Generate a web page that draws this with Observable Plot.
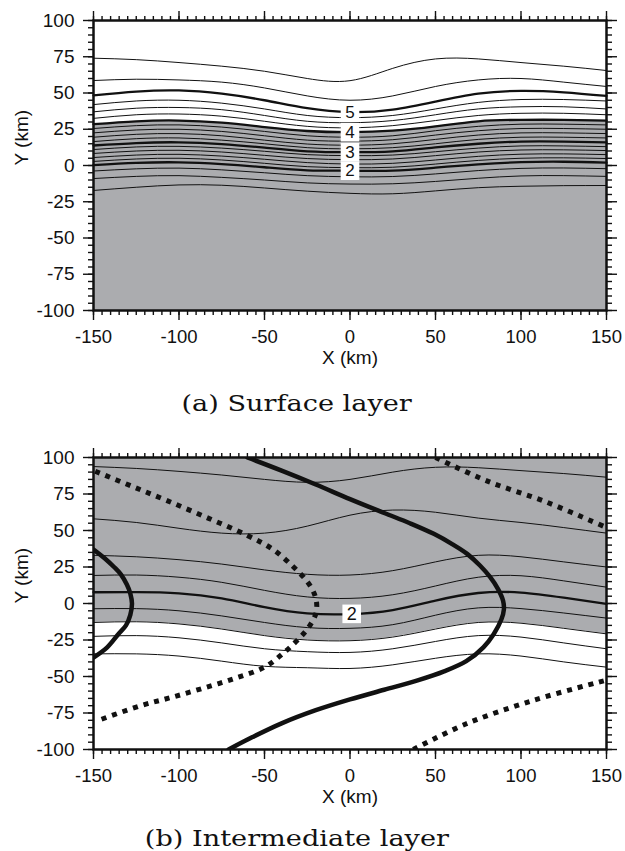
<!DOCTYPE html>
<html>
<head>
<meta charset="utf-8">
<script src="https://cdn.jsdelivr.net/npm/d3@7"></script>
<script src="https://cdn.jsdelivr.net/npm/@observablehq/plot@0.6"></script>
<style>
  html, body { margin: 0; padding: 0; background: #fff; }
  #page { position: relative; width: 625px; height: 851px; overflow: hidden; }
  .panel { position: absolute; left: 0; }
  .panel svg text { font-family: "Liberation Sans", Arial, Helvetica, sans-serif; }
  .cap { position: absolute; left: 0; width: 594px; text-align: center;
         font-family: "DejaVu Serif", "Liberation Serif", serif; font-size: 23px;
         line-height: 30px; color: #111; }
  .cap span { display: inline-block; transform: scaleX(1.18); transform-origin: center; }
</style>
</head>
<body>
<div id="page">
  <div class="panel" id="pa" style="top:0px"></div>
  <div class="cap" style="top:388px"><span>(a) Surface layer</span></div>
  <div class="panel" id="pb" style="top:437px"></div>
  <div class="cap" style="top:823px"><span>(b) Intermediate layer</span></div>
</div>
<script>
// ---- shared axis values ----
const xGrid = [-150, -125, -100, -75, -50, -25, 0, 25, 50, 75, 100, 125, 150];
const xTickValues = [-150, -100, -50, 0, 50, 100, 150];
const yTickValues = [-100, -75, -50, -25, 0, 25, 50, 75, 100];

// ---- (a) surface layer: contour lines, y (km) sampled on xGrid ----
const sA1  = [74, 73, 71, 68.5, 65, 60, 58.5, 67, 73.5, 73.5, 71, 68.5, 65.5];
const sA2  = [58.6, 59.5, 59, 57.5, 53.5, 48, 45, 48, 54.5, 59, 60, 57.5, 54.5];
const sA5  = [48.3, 51, 51.8, 49.5, 45, 39.5, 36.8, 38.5, 44, 49.5, 51.5, 50.5, 48];
const sA6  = [42, 44.5, 45, 43, 39, 34.5, 33, 34.5, 39, 43.5, 45.5, 45.5, 44.5];
const sA7  = [37, 39.5, 40, 38.5, 34.5, 30.5, 29.5, 31, 35, 39, 40.5, 40.5, 39];
const sA8  = [32.5, 35, 35.5, 34, 30.5, 27, 26, 27.5, 31, 34.5, 36, 36, 35];
const sA4  = [28.5, 30.5, 31, 29.5, 26.5, 23.8, 23, 24, 27, 30.5, 31.5, 31.5, 31];
const sA9  = [25.5, 27.5, 28, 26.5, 23.5, 20.5, 19.5, 20.5, 24, 27, 28.5, 28.5, 28];
const sA10 = [22.5, 24.5, 25, 23.5, 20.5, 17.5, 16.8, 17.8, 21, 24, 25.5, 25.5, 25];
const sA11 = [19.5, 21.5, 22, 20.5, 17.5, 14.8, 14, 15, 18, 21, 22.5, 22.5, 22];
const sA12 = [16.5, 18.5, 19, 17.5, 15, 12.3, 11.5, 12.3, 15, 18, 19.5, 19.5, 19];
const sA3  = [13.8, 15.5, 16, 14.8, 12.3, 9.8, 9.2, 9.8, 12.5, 15, 16.5, 16.5, 16];
const sA13 = [11, 12.8, 13.2, 12, 9.8, 7.5, 6.8, 7.2, 9.5, 12, 13.5, 13.5, 13];
const sA14 = [8.3, 10, 10.5, 9.3, 7, 4.8, 4, 4.5, 6.8, 9.3, 10.7, 10.8, 10.3];
const sA15 = [5.5, 7.2, 7.7, 6.5, 4.3, 2, 1, 1.5, 3.8, 6.3, 7.8, 8, 7.5];
const sA16 = [2.8, 4.5, 5, 3.8, 1.5, -0.8, -1.5, -1.2, 1, 3.5, 5, 5.3, 4.8];
const sA2b = [0.2, 1.8, 2.2, 1, -1.2, -3.3, -3.6, -3.6, -1.5, 0.8, 2.3, 2.6, 2];
const sA17 = [-3.8, -2.3, -1.8, -3, -5, -7, -7.8, -7.6, -5.8, -3.5, -2, -1.7, -2.2];
const sA18 = [-9, -7.5, -7, -8.2, -10, -12, -12.8, -12.6, -11, -8.8, -7.2, -7, -7.5];
const sA19 = [-17.2, -15, -13.4, -13.6, -15.5, -17.7, -19.2, -19.5, -17.5, -15.3, -14.3, -13.9, -13.8];

const surfaceThin  = [sA1, sA2, sA6, sA7, sA8, sA9, sA10, sA11, sA12, sA13, sA14, sA15, sA16, sA17, sA18, sA19];
const surfaceThick = [sA5, sA4, sA3, sA2b];
const surfaceShadeTop = sA4;               // shading below the "4" contour
const surfaceLabelX = [0, 0, 0, 0];
const surfaceLabelY = [36.8, 23, 9.2, -3.6];
const surfaceLabelText = ["5", "4", "3", "2"];

// ---- (b) intermediate layer: contour lines on xGrid ----
const iB1 = [93.8, 92.5, 90.5, 88, 85, 83, 85, 90, 93.3, 93, 91, 89, 86.5];
const iB2 = [58, 55.5, 51.5, 48.2, 48.2, 53, 60.5, 64, 62.5, 58.5, 55.5, 52, 48.2];
const iB3 = [33, 32, 30, 27, 23, 20, 19.5, 22.5, 28.5, 33, 32, 28.5, 25];
const iB4 = [19.2, 19.5, 18, 14.5, 9, 4.5, 3.5, 6, 12, 18, 19, 15.5, 11.2];
const iB5 = [7.7, 7.8, 7, 3.5, -2.5, -6.8, -7.3, -4.5, 2, 7.2, 7.5, 4, -0.2];
const iB6 = [-3.6, -3.5, -5, -8.5, -13, -16.5, -17, -14.5, -8, -3, -3.5, -6.5, -10];
const iB7 = [-13, -12.5, -14, -17.5, -22, -25, -25.5, -23, -17.5, -13, -13.5, -17, -20.8];
const iB8 = [-22.5, -22, -23.5, -27, -31, -33, -33.5, -31, -26, -22, -23, -27, -31];
const iB9 = [-34.5, -34.5, -36, -39.5, -43, -44, -44.5, -42, -37.5, -34.5, -36, -40, -43.6];

const interThin  = [iB1, iB2, iB3, iB4, iB6, iB7, iB8, iB9];
const interThick = [iB5];
const interShadeBottom = iB7;              // shading above this contour
const interLabelX = [1];
const interLabelY = [-7.1];
const interLabelText = ["2"];

// zero lines of the second field: solid and dotted paths [x, y]
const solidLeft = [[-150, 37], [-143.5, 31], [-138, 25], [-134, 20], [-130.5, 13], [-128.5, 7], [-127.5, 0],
                   [-128.5, -8], [-131, -15], [-135.5, -21], [-142, -30], [-150, -37]];
const solidRight = [[-60, 100], [-40, 91], [-20, 81.5], [0, 71.5], [20, 62], [35, 55], [49, 47.7], [60, 40.5], [68.5, 34],
                    [76, 26], [82, 18], [86.5, 10], [89.5, 2], [90, -4], [88.5, -11], [84, -21], [78, -30], [68, -39.5],
                    [55, -46.5], [40, -52.5], [20, -59.1], [0, -65.7], [-20, -73.1], [-40, -82.1], [-57, -91.5], [-71, -100]];
const dottedLeft = [[-149, 90.6], [-128, 80.5], [-107, 70.5], [-83, 58.5], [-60, 46.6], [-45, 37], [-33, 25], [-25, 15], [-21, 7], [-19.5, 0],
                    [-20, -7], [-24, -16], [-29, -23], [-38, -33], [-50, -43.6], [-68, -51.5], [-87, -58.4], [-105, -64.5], [-122.5, -70], [-147, -80]];
const dottedTop = [[50, 100], [80, 84], [115, 69.4], [150, 52]];
const dottedBottom = [[37, -100], [68, -82.4], [107, -66.4], [150, -52.5]];

// ---- helpers ----
const ink = "#111";
const shade = "#abacaf";
const sansFont = "'Liberation Sans', Arial, Helvetica, sans-serif";
const rowsOf = (lines) => lines.flatMap((ys, id) => xGrid.map((x, i) => ({x, y: ys[i], id})));
const pathOf = (pts) => pts.map(([x, y]) => ({x, y}));
const labelsOf = (xs, ys, ts) => xs.map((x, i) => ({x, y: ys[i], t: ts[i]}));
const minorX = d3.range(-150, 151, 5);
const minorY = d3.range(-100, 101, 5);

function frameAndAxes() {
  const fmt = (d) => String(d);
  const tk = {label: null, stroke: ink, strokeWidth: 1.4};
  return [
    Plot.axisX({...tk, anchor: "bottom", ticks: minorX, tickSize: 5, fill: "none"}),
    Plot.axisX({...tk, anchor: "top", ticks: minorX, tickSize: 5, fill: "none"}),
    Plot.axisY({...tk, anchor: "left", ticks: minorY, tickSize: 5, fill: "none"}),
    Plot.axisY({...tk, anchor: "right", ticks: minorY, tickSize: 5, fill: "none"}),
    Plot.axisX({...tk, anchor: "top", ticks: xTickValues, tickSize: 10, fill: "none"}),
    Plot.axisY({...tk, anchor: "right", ticks: yTickValues, tickSize: 10, fill: "none"}),
    Plot.axisX({...tk, anchor: "bottom", ticks: xTickValues, tickSize: 10, tickPadding: 9, tickFormat: fmt, fill: ink, fontSize: 18.5}),
    Plot.axisY({...tk, anchor: "left", ticks: yTickValues, tickSize: 10, tickPadding: 9, tickFormat: fmt, fill: ink}),
    Plot.frame({stroke: ink, strokeWidth: 2.5}),
    Plot.text(["X (km)"], {text: (d) => d, frameAnchor: "bottom", dy: 53, fill: ink}),
    Plot.text(["Y (km)"], {text: (d) => d, frameAnchor: "left", dx: -72, rotate: -90, fill: ink})
  ];
}

function base(marks, height, marginBottom) {
  return Plot.plot({
    width: 625, height,
    marginLeft: 93, marginRight: 19, marginTop: 20, marginBottom,
    x: {domain: [-150, 150]},
    y: {domain: [-100, 100]},
    style: {fontSize: "19px", fontFamily: sansFont, background: "transparent", color: ink, overflow: "visible"},
    marks
  });
}

// ---- (a) Surface layer ----
const surfLabels = labelsOf(surfaceLabelX, surfaceLabelY, surfaceLabelText);
const plotA = base([
  Plot.areaY(rowsOf([surfaceShadeTop]), {x: "x", y1: -100, y2: "y", curve: "natural", fill: shade}),
  Plot.line(rowsOf(surfaceThin), {x: "x", y: "y", z: "id", curve: "natural", stroke: ink, strokeWidth: 1}),
  Plot.line(rowsOf(surfaceThick), {x: "x", y: "y", z: "id", curve: "natural", stroke: ink, strokeWidth: 2.3}),
  Plot.dot(surfLabels, {x: "x", y: "y", symbol: "square", r: 10.5, fill: "white"}),
  Plot.text(surfLabels, {x: "x", y: "y", text: "t", fontSize: 17, fill: ink}),
  ...frameAndAxes()
], 380, 70);
document.getElementById("pa").append(plotA);

// ---- (b) Intermediate layer ----
const interLabels = labelsOf(interLabelX, interLabelY, interLabelText);
const dotted = {x: "x", y: "y", curve: "catmull-rom", stroke: ink, strokeWidth: 5, strokeDasharray: "5 6", strokeLinecap: "butt", clip: true};
const solid = {x: "x", y: "y", curve: "catmull-rom", stroke: ink, strokeWidth: 4.5, clip: true};
const plotB = base([
  Plot.areaY(rowsOf([interShadeBottom]), {x: "x", y1: "y", y2: 100, curve: "natural", fill: shade}),
  Plot.line(rowsOf(interThin), {x: "x", y: "y", z: "id", curve: "natural", stroke: ink, strokeWidth: 1}),
  Plot.line(rowsOf(interThick), {x: "x", y: "y", z: "id", curve: "natural", stroke: ink, strokeWidth: 2.3}),
  Plot.line(pathOf(solidLeft), solid),
  Plot.line(pathOf(solidRight), solid),
  Plot.line(pathOf(dottedLeft), dotted),
  Plot.line(pathOf(dottedTop), dotted),
  Plot.line(pathOf(dottedBottom), dotted),
  Plot.dot(interLabels, {x: "x", y: "y", symbol: "square", r: 10.5, fill: "white"}),
  Plot.text(interLabels, {x: "x", y: "y", text: "t", fontSize: 18, fill: ink}),
  ...frameAndAxes()
], 372, 60);
document.getElementById("pb").append(plotB);
</script>
</body>
</html>
